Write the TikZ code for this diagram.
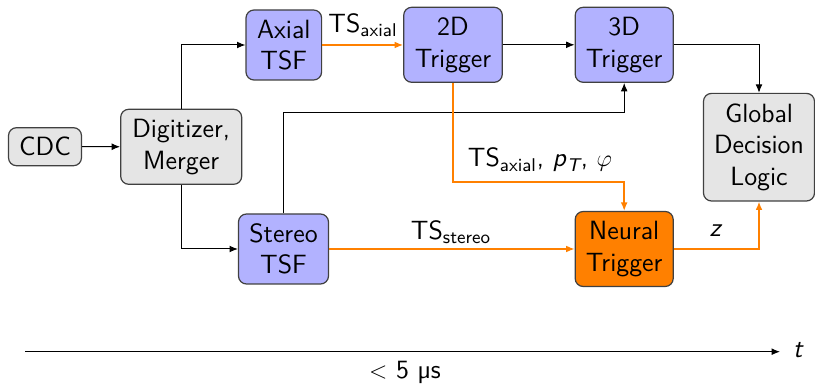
\documentclass[tikz,border=0pt]{standalone}
\usepackage{amsmath}
\usetikzlibrary{arrows.meta}
\renewcommand{\familydefault}{\sfdefault}

\tikzset{
  txt/.style={font=\sffamily\fontsize{13.2}{15.8}\selectfont},
  box/.style={txt, draw=black!75, line width=0.6pt, rounded corners=4pt,
    align=center, inner sep=0pt},
  graybox/.style={box, fill=black!10},
  bluebox/.style={box, fill=blue!30},
  orangebox/.style={box, fill=orange},
  conn/.style={line width=0.5pt, -{Latex[length=4.2pt,width=3.4pt]}},
  oconn/.style={conn, line width=0.75pt, draw=orange},
}

\begin{document}
\begin{tikzpicture}[x=0.5pt,y=-0.5pt]
  \useasboundingbox (0,0) rectangle (815,384);

  % processing stages
  \node[graybox, minimum width=36.5pt, minimum height=19pt] (cdc) at (45,146.7) {CDC};
  \node[graybox, minimum width=60.5pt, minimum height=37.5pt] (dig) at (181.2,146.8) {Digitizer,\\Merger};
  \node[bluebox, minimum width=37.8pt, minimum height=35pt] (axial) at (283.8,45) {Axial\\TSF};
  \node[bluebox, minimum width=45pt, minimum height=35pt] (stereo) at (283.5,249) {Stereo\\TSF};
  \node[bluebox, minimum width=49.3pt, minimum height=37.5pt] (tdd) at (453,44.8) {2D\\Trigger};
  \node[bluebox, minimum width=49pt, minimum height=37.5pt] (ddd) at (624.2,44.8) {3D\\Trigger};
  \node[orangebox, minimum width=49pt, minimum height=37.5pt] (neural) at (624.2,249) {Neural\\Trigger};
  \node[graybox, minimum width=55.5pt, minimum height=53.8pt] (gdl) at (759,147.2) {Global\\Decision\\Logic};

  % data flow
  \draw[conn] (cdc) -- (dig);
  \draw[conn] (dig.north) |- (axial.west);
  \draw[conn] (dig.south) |- (stereo.west);
  \draw[oconn] (axial.east) -- (axial.east -| tdd.west);
  \draw[conn] (tdd.east) -- (tdd.east -| ddd.west);
  \draw[conn] (ddd.east) -| (gdl.north);
  \draw[conn] (stereo.north) -- ++(0,-101) -| (ddd.south);
  \draw[oconn] (tdd.south) -- ++(0,99) -| (neural.north);
  \draw[oconn] (stereo.east) -- (stereo.east -| neural.west);
  \draw[oconn] (neural.east) -| (gdl.south);

  % connector labels
  \node[txt] (lax) at (363,25) {TS$_{\text{axial}}$};
  \node[txt] (lst) at (451,232) {TS$_{\text{stereo}}$};
  \node[txt] (lnn) at (540,160) {TS$_{\text{axial}}$, \textit{p}$_{\textit{T}}$, $\varphi$};
  \node[txt] (lz) at (716,231) {\textit{z}};

  % time axis
  \coordinate (t0) at (25,351.7);
  \coordinate (t1) at (780,351.7);
  \draw[conn] (t0) -- (t1);
  \node[txt, anchor=west] (tl) at (786,350) {\textit{t}};
  \node[txt] (lat) at (405,372) {$<$ 5 µs};
\end{tikzpicture}
\end{document}
